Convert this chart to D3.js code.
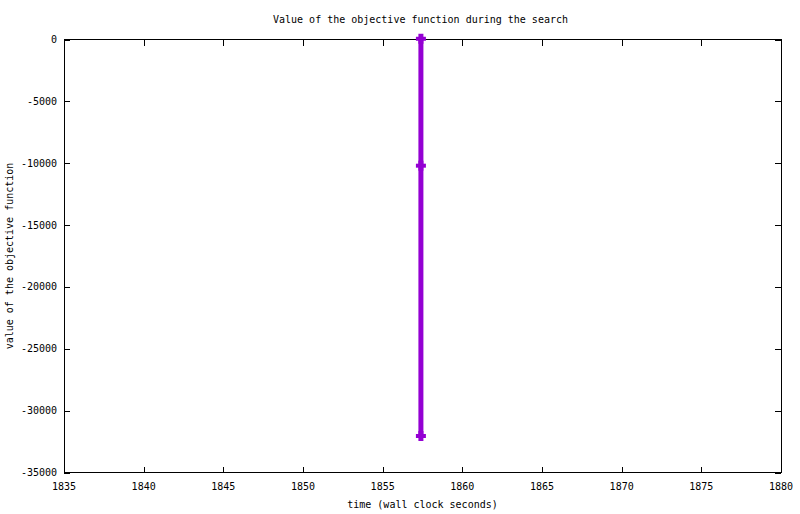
<!DOCTYPE html>
<html><head><meta charset="utf-8">
<script src="https://cdn.jsdelivr.net/npm/d3@7"></script>
<style>body{margin:0;background:#fff}svg{display:block}text{font-family:"DejaVu Sans Mono",monospace;font-size:10px;fill:#000}</style>
</head><body>
<script>
const times = [1857.4, 1857.4, 1857.4];
const values = [60, -10200, -32050];
const xTicks = [1835,1840,1845,1850,1855,1860,1865,1870,1875,1880];
const yTicks = [0,-5000,-10000,-15000,-20000,-25000,-30000,-35000];
const title = "Value of the objective function during the search";
const xLabel = "time (wall clock seconds)";
const yLabel = "value of the objective function";

const W=800,H=514, L=64, R=781, T=39.5, B=472.5;
const svg=d3.select("body").append("svg").attr("width",W).attr("height",H);
const x=d3.scaleLinear().domain([1835,1880]).range([L,R]);
const y=d3.scaleLinear().domain([-35000,0]).range([B,T]);

const g=svg.append("g").attr("shape-rendering","crispEdges");
// ticks (mirrored, inward)
xTicks.forEach(t=>{
  g.append("line").attr("x1",Math.round(x(t))+0.5).attr("x2",Math.round(x(t))+0.5).attr("y1",B).attr("y2",B-6).attr("stroke","#000");
  g.append("line").attr("x1",Math.round(x(t))+0.5).attr("x2",Math.round(x(t))+0.5).attr("y1",T).attr("y2",T+6).attr("stroke","#000");
  svg.append("text").attr("x",x(t)).attr("y",B+17).attr("text-anchor","middle").text(t);
});
yTicks.forEach(t=>{
  const yy=Math.round(y(t))+0.5;
  g.append("line").attr("x1",L).attr("x2",L+6).attr("y1",yy).attr("y2",yy).attr("stroke","#000");
  g.append("line").attr("x1",R).attr("x2",R-6).attr("y1",yy).attr("y2",yy).attr("stroke","#000");
  svg.append("text").attr("x",L-7).attr("y",y(t)+3.5).attr("text-anchor","end").text(t===0?"0":"-"+Math.abs(t));
});
g.append("rect").attr("x",L+0.5).attr("y",T).attr("width",R-L).attr("height",B-T).attr("fill","none").attr("stroke","#000");

const col="#9400d3";
const line=d3.line().x((d,i)=>x(times[i])).y(d=>y(d));
svg.append("path").datum(values).attr("d",line).attr("fill","none").attr("stroke",col).attr("stroke-width",5);
values.forEach((v,i)=>{
  const cx=x(times[i]), cy=y(v);
  svg.append("line").attr("x1",cx-5).attr("x2",cx+5).attr("y1",cy).attr("y2",cy).attr("stroke",col).attr("stroke-width",4);
  svg.append("line").attr("x1",cx).attr("x2",cx).attr("y1",cy-5).attr("y2",cy+5).attr("stroke",col).attr("stroke-width",5);
});

svg.append("text").attr("x",(L+R)/2-2).attr("y",23).attr("text-anchor","middle").text(title);
svg.append("text").attr("x",(L+R)/2).attr("y",508).attr("text-anchor","middle").text(xLabel);
svg.append("text").attr("transform",`translate(13,${(T+B)/2}) rotate(-90)`).attr("text-anchor","middle").text(yLabel);
</script>
</body></html>
